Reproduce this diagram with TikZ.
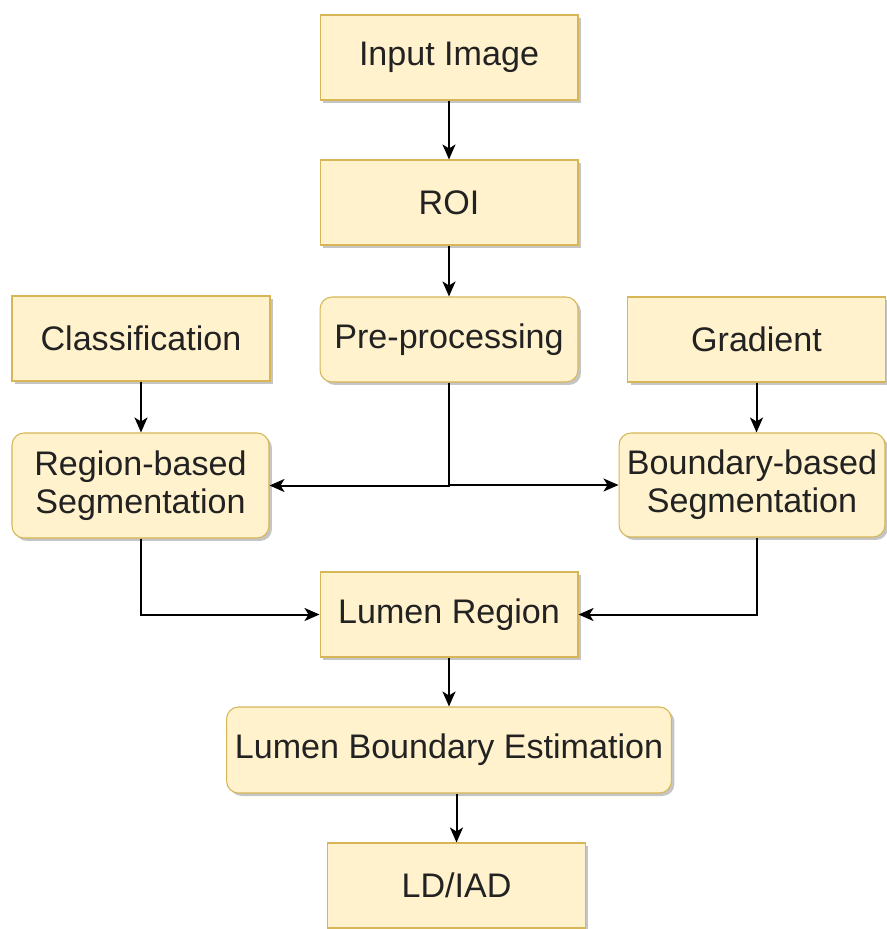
\documentclass[tikz,border=0pt]{standalone}
\usepackage{fontspec}
\setmainfont{Liberation Sans}
\usepackage{tikz}
\usetikzlibrary{arrows.meta,shadows}
\definecolor{boxfill}{HTML}{FFF2CC}
\definecolor{boxline}{HTML}{D6B656}
\definecolor{textgray}{HTML}{222222}

\begin{document}
\begin{tikzpicture}[x=0.02cm, y=-0.02cm]
        \useasboundingbox (0,0) rectangle (886,929);
        \begin{scope}[
            every node/.style={draw=boxline, fill=boxfill, line width=0.6pt,
                minimum width=5.16cm, minimum height=1.7cm, inner sep=0pt,
                align=center, text=textgray,
                font=\fontsize{19.4}{21.5}\selectfont,
                drop shadow={shadow xshift=0.06cm, shadow yshift=-0.06cm,
                    fill=black!45, opacity=0.5}}
        ]
            \node (inp) at (449, 57.5) {Input Image};
            \node (roi) at (449, 202.5) {ROI};
            \node[rounded corners=0.24cm] (pre) at (449, 339.5) {Pre-processing};
            \node (cls) at (141, 338.5) {Classification};
            \node (grd) at (756.5, 339.5) {Gradient};

            \node[rounded corners=0.24cm, minimum width=5.14cm, minimum height=2.1cm] (reg) at (140.5, 485.5) {Region-based\\Segmentation};
            \node[rounded corners=0.24cm, minimum width=5.32cm, minimum height=2.08cm] (bnd) at (752, 485) {Boundary-based\\Segmentation};

            \node (lum) at (449, 614.5) {Lumen Region};
            \node[rounded corners=0.24cm, minimum width=8.9cm, minimum height=1.72cm] (lbe) at (449, 750) {Lumen Boundary Estimation};
            \node (ldi) at (456.5, 885.5) {LD/IAD};
        \end{scope}
        \begin{scope}[
            >={Stealth[length=0.3cm, width=0.26cm, inset=0.08cm]},
            every edge/.style={draw=black, line width=0.04cm}
        ]
            \path [->] (inp) edge (roi);
            \path [->] (roi) edge (pre);
            \path [->] (cls) edge (cls |- reg.north);
            \path [->] (grd) edge (grd |- bnd.north);
            \path [->] (lum) edge (lbe);
            \path [->] (lbe.south -| ldi.north) edge (ldi);

            \draw [->, line width=0.04cm] (pre.south) |- (reg.east);
            \draw [->, line width=0.04cm] (pre.south) |- (bnd.west);
            \draw [->, line width=0.04cm] (reg.south) |- (lum.west);
            \draw [->, line width=0.04cm] (bnd.south -| grd.south) |- (lum.east);
        \end{scope}
    \end{tikzpicture}
\end{document}
